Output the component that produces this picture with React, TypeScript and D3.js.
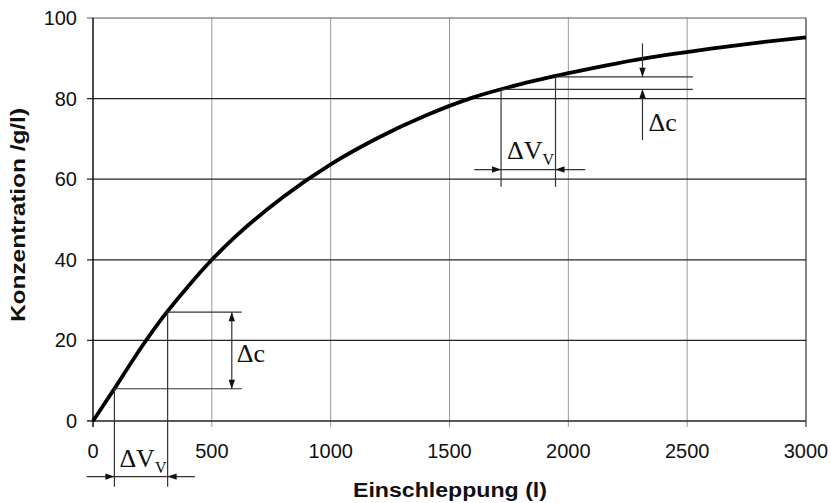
import React, { useRef, useEffect } from 'react';
import * as d3 from 'd3';

// Konzentrationsverlauf
const volume = [0, 100, 200, 300, 400, 500, 600, 800, 1000, 1200, 1400, 1600, 1800, 2000, 2200, 2400, 2600, 2800, 3000];
const concentration = [0, 8.9, 18.0, 26.2, 33.4, 40.0, 45.8, 55.6, 63.7, 70.3, 75.8, 80.3, 83.6, 86.3, 88.7, 90.7, 92.4, 93.9, 95.2];

const xTicks = [0, 500, 1000, 1500, 2000, 2500, 3000];
const yTicks = [0, 20, 40, 60, 80, 100];

// annotation near the origin
const lowPairV = [90, 314];
const lowPairC = [8, 27];
const lowLineEndV = 626;
const lowDcV = 584;
const lowDropC = -16.3;
const lowArrowC = -13.8;
const lowArrowSpan = [-26, 429];

// annotation at the flat part
const highPairV = [1717, 1946];
const highPairC = [82.3, 85.4];
const highLineEndV = 2524;
const highDropC = 58.1;
const highArrowC = 62.4;
const highArrowSpan = [1604, 2071];
const highDcV = 2312;
const highDcTop = 93.7;
const highDcBottom = 69.7;

const App = () => {
  const svgRef = useRef<SVGSVGElement>(null);

  useEffect(() => {
    const width = 831;
    const height = 503;
    const margin = { top: 18, right: 25, bottom: 82, left: 93 };

    const svg = d3.select(svgRef.current);
    svg.selectAll('*').remove();
    svg.attr('width', width).attr('height', height).attr('viewBox', [0, 0, width, height].join(' '));

    const x = d3.scaleLinear().domain([0, 3000]).range([margin.left, width - margin.right]);
    const y = d3.scaleLinear().domain([0, 100]).range([height - margin.bottom, margin.top]);

    const sans = "'Liberation Sans', Arial, sans-serif";
    const serif = "'Liberation Serif', 'Times New Roman', serif";

    // vertical grid (gray)
    svg.append('g')
      .selectAll('line')
      .data(xTicks.slice(1))
      .join('line')
      .attr('x1', d => x(d)).attr('x2', d => x(d))
      .attr('y1', y(100)).attr('y2', y(0) + 6)
      .attr('stroke', d => (d === 3000 ? '#666' : '#999'))
      .attr('stroke-width', d => (d === 3000 ? 1.6 : 1));

    // horizontal grid (dark)
    svg.append('g')
      .selectAll('line')
      .data(yTicks)
      .join('line')
      .attr('x1', x(0) - 6).attr('x2', x(3000))
      .attr('y1', d => y(d)).attr('y2', d => y(d))
      .attr('stroke', d => (d === 100 ? '#555' : '#222'))
      .attr('stroke-width', d => (d === 0 ? 1.5 : 1.2));

    // y axis line
    svg.append('line')
      .attr('x1', x(0)).attr('x2', x(0))
      .attr('y1', y(100)).attr('y2', y(0) + 6)
      .attr('stroke', '#111').attr('stroke-width', 1.5);

    // tick labels
    svg.append('g')
      .selectAll('text')
      .data(yTicks)
      .join('text')
      .attr('x', x(0) - 16)
      .attr('y', d => y(d))
      .attr('dy', '0.35em')
      .attr('text-anchor', 'end')
      .style('font', `20px ${sans}`)
      .attr('fill', '#111')
      .text(d => d);

    svg.append('g')
      .selectAll('text')
      .data(xTicks)
      .join('text')
      .attr('x', d => x(d))
      .attr('y', y(0) + 37)
      .attr('text-anchor', 'middle')
      .style('font', `20px ${sans}`)
      .attr('fill', '#111')
      .text(d => d);

    // axis titles
    svg.append('text')
      .attr('x', 450)
      .attr('y', 497)
      .attr('text-anchor', 'middle')
      .attr('textLength', 194)
      .attr('lengthAdjust', 'spacingAndGlyphs')
      .style('font', `bold 20px ${sans}`)
      .attr('fill', '#111')
      .text('Einschleppung (l)');

    svg.append('text')
      .attr('transform', 'translate(25,215) rotate(-90)')
      .attr('text-anchor', 'middle')
      .attr('textLength', 214)
      .attr('lengthAdjust', 'spacingAndGlyphs')
      .style('font', `bold 21px ${sans}`)
      .attr('fill', '#111')
      .text('Konzentration /g/l)');

    // curve
    const line = d3.line<number>()
      .x((d, i) => x(volume[i]))
      .y(d => y(d))
      .curve(d3.curveMonotoneX);

    svg.append('path')
      .datum(concentration)
      .attr('d', line)
      .attr('fill', 'none')
      .attr('stroke', '#000')
      .attr('stroke-width', 3.8);

    // annotations
    const ann = svg.append('g').attr('stroke', '#333').attr('stroke-width', 1.2);
    const seg = (x1: number, y1: number, x2: number, y2: number) =>
      ann.append('line').attr('x1', x1).attr('y1', y1).attr('x2', x2).attr('y2', y2);

    // arrow head with its tip at (tx, ty) pointing in direction (dx, dy)
    const head = (tx: number, ty: number, dx: number, dy: number) => {
      const len = 9, half = 3.2;
      const bx = tx - dx * len, by = ty - dy * len;
      const px = -dy * half, py = dx * half;
      svg.append('path')
        .attr('d', `M${tx},${ty}L${bx + px},${by + py}L${bx - px},${by - py}Z`)
        .attr('fill', '#111');
    };

    // lower pair
    lowPairV.forEach((v, i) => {
      seg(x(v), y(lowPairC[i]), x(lowLineEndV), y(lowPairC[i]));
      seg(x(v), y(lowPairC[i]), x(v), y(lowDropC));
    });
    seg(x(lowDcV), y(lowPairC[0]), x(lowDcV), y(lowPairC[1]));
    head(x(lowDcV), y(lowPairC[1]), 0, -1);
    head(x(lowDcV), y(lowPairC[0]), 0, 1);
    seg(x(lowArrowSpan[0]), y(lowArrowC), x(lowArrowSpan[1]), y(lowArrowC));
    head(x(lowPairV[0]), y(lowArrowC), 1, 0);
    head(x(lowPairV[1]), y(lowArrowC), -1, 0);

    // upper pair
    highPairV.forEach((v, i) => {
      seg(x(v), y(highPairC[i]), x(highLineEndV), y(highPairC[i]));
      seg(x(v), y(highPairC[i]), x(v), y(highDropC));
    });
    seg(x(highArrowSpan[0]), y(highArrowC), x(highArrowSpan[1]), y(highArrowC));
    head(x(highPairV[0]), y(highArrowC), 1, 0);
    head(x(highPairV[1]), y(highArrowC), -1, 0);
    seg(x(highDcV), y(highDcTop), x(highDcV), y(highPairC[1]));
    head(x(highDcV), y(highPairC[1]), 0, 1);
    seg(x(highDcV), y(highDcBottom), x(highDcV), y(highPairC[0]));
    head(x(highDcV), y(highPairC[0]), 0, -1);

    // Δ labels
    const deltaC = (tx: number, ty: number) =>
      svg.append('text')
        .attr('x', tx).attr('y', ty)
        .style('font', `26px ${serif}`)
        .attr('fill', '#111')
        .text('\u0394c');

    const deltaV = (tx: number, ty: number) => {
      const t = svg.append('text')
        .attr('x', tx).attr('y', ty)
        .style('font', `26px ${serif}`)
        .attr('fill', '#111');
      t.append('tspan').text('\u0394V');
      t.append('tspan').attr('dy', 6).style('font-size', '16px').text('V');
    };

    deltaC(x(lowDcV) + 5, (y(lowPairC[0]) + y(lowPairC[1])) / 2 + 12);
    deltaC(x(highDcV) + 6, y(highPairC[0]) + 42);
    deltaV(x(lowPairV[0]) + 5, y(lowArrowC) - 10);
    deltaV(x(highPairV[0]) + 6, y(highArrowC) - 11);
  }, []);

  return (
    <svg
      ref={svgRef}
      style={{ position: 'absolute', left: 0, top: 0, background: '#fff' }}
    />
  );
};

export default App;
